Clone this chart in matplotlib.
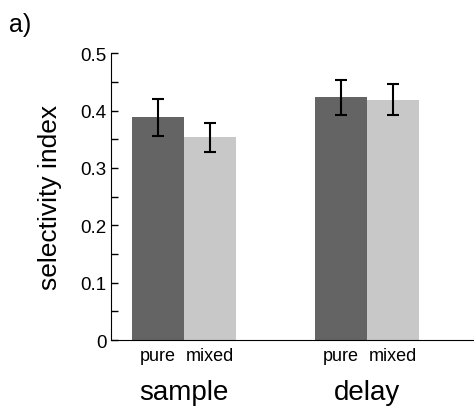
import matplotlib.pyplot as plt
import numpy as np

plt.rcParams['font.family'] = ['Liberation Sans', 'DejaVu Sans']

groups = ['sample', 'delay']
conds = ['pure', 'mixed']
pure_vals = [0.388, 0.423]
mixed_vals = [0.353, 0.419]
pure_err = [0.032, 0.030]
mixed_err = [0.025, 0.027]
yticks = [0, 0.1, 0.2, 0.3, 0.4, 0.5]
ytick_labels = ['0', '0.1', '0.2', '0.3', '0.4', '0.5']

fig = plt.figure(figsize=(4.74, 4.10), dpi=100)
ax = fig.add_axes([0.234, 0.168, 0.766, 0.700])

x = np.arange(1, len(groups) + 1)
w = 0.284
ax.bar(x - w / 2, pure_vals, w, color='#646464', zorder=1)
ax.bar(x + w / 2, mixed_vals, w, color='#c8c8c8', zorder=1)
ax.errorbar(x - w / 2, pure_vals, yerr=pure_err, fmt='none', ecolor='black',
            elinewidth=1.5, capsize=4, capthick=1.5, zorder=3)
ax.errorbar(x + w / 2, mixed_vals, yerr=mixed_err, fmt='none', ecolor='black',
            elinewidth=1.5, capsize=4, capthick=1.5, zorder=3)

ax.set_xlim(0.601, 2.585)
ax.set_ylim(0, 0.5)
ax.set_yticks(yticks)
ax.set_yticklabels(ytick_labels, fontsize=13.5)
ax.set_yticks(np.arange(0.05, 0.5, 0.1), minor=True)
ax.tick_params(axis='y', which='both', direction='in', length=5, width=1, pad=3)

xt = np.concatenate([x - w / 2, x + w / 2])
ax.set_xticks(sorted(xt))
ax.set_xticklabels(conds * len(groups), fontsize=13)
ax.tick_params(axis='x', length=0, pad=5)

for xi, g in zip(x, groups):
    ax.text(xi, -0.18, g, transform=ax.get_xaxis_transform(), ha='center',
            va='center', fontsize=20)

ax.set_ylabel('selectivity index', fontsize=19, labelpad=13)
ax.spines['top'].set_visible(False)
ax.spines['right'].set_visible(False)

fig.text(0.02, 0.94, 'a)', fontsize=18, va='center')

fig.savefig('out.png', dpi=100)
